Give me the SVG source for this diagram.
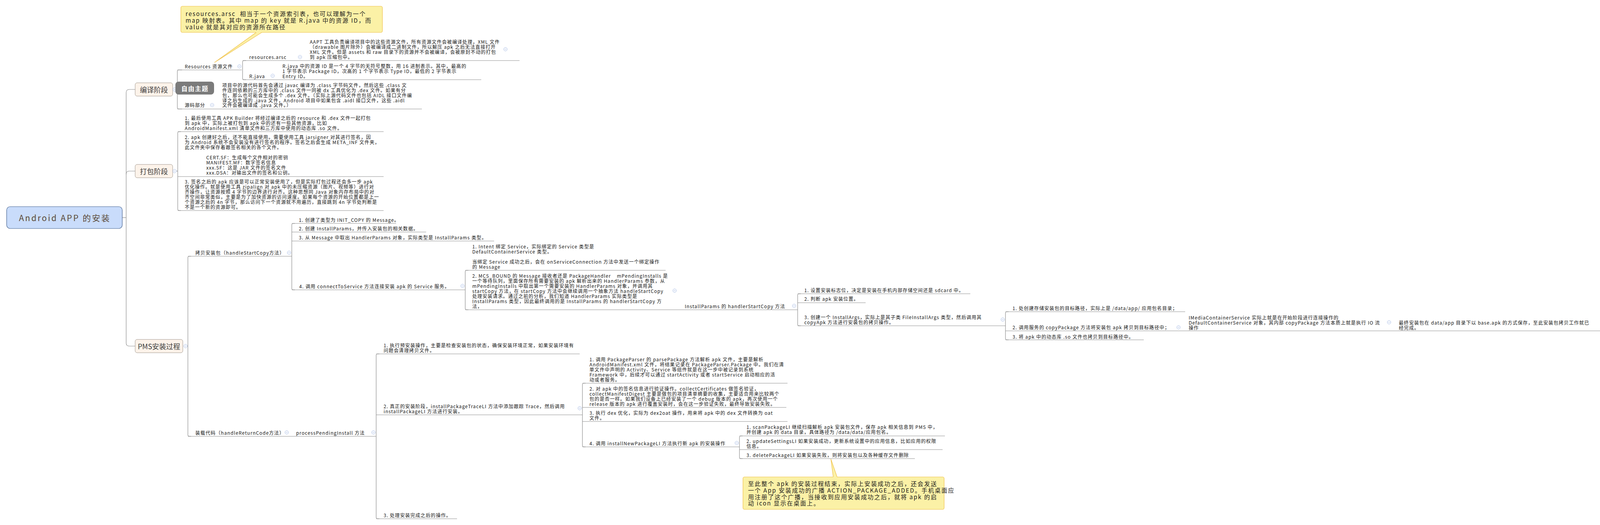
<svg xmlns="http://www.w3.org/2000/svg" width="4099" height="1344" viewBox="0 0 4099 1344">
<style>
.b{font-family:"Noto Sans CJK SC","Noto Sans",sans-serif;font-size:12px;letter-spacing:1.1px;fill:#141414;dominant-baseline:central}
.st{font-family:"Noto Sans CJK SC","Noto Sans",sans-serif;font-size:18px;fill:#3d3d3d;text-anchor:middle;dominant-baseline:central}
.rt{font-family:"Noto Sans CJK SC","Noto Sans",sans-serif;font-size:21px;letter-spacing:3px;fill:#5b4a38;text-anchor:middle;dominant-baseline:central}
.nt{font-family:"Noto Sans CJK SC","Noto Sans",sans-serif;font-size:15px;letter-spacing:2px;fill:#1a1a1a;dominant-baseline:central}
.ft{font-family:"Noto Sans CJK SC","Noto Sans",sans-serif;font-size:16px;font-weight:bold;letter-spacing:1.5px;fill:#ffffff;text-anchor:middle;dominant-baseline:central}
.ul{stroke:#8d8d8d;stroke-width:1.2;fill:none}
.cn{stroke:#8d8d8d;stroke-width:1.2;fill:none}
.sb{fill:#fdf3ea;stroke:#a0968c;stroke-width:1}
.note{fill:#fbf1a6;stroke:#f0c14b;stroke-width:1.2}
.col circle{fill:#ffffff;stroke:#a9bde6;stroke-width:1}
.col line{stroke:#a9bde6;stroke-width:1}
</style>
<defs>
<g id="col" class="col"><circle r="4.5"/><line x1="-2.5" y1="0" x2="2.5" y2="0"/></g>
</defs>
<rect x="0" y="0" width="4099" height="1344" fill="#ffffff"/>

<g id="connectors">
<path class="cn" d="M313,557 H323"/>
<path class="cn" d="M346,229 H331 Q323,229 323,237 V878 Q323,886 331,886 H346"/>
<path class="cn" d="M323,446 Q323,438 331,438 H346"/>
<path class="cn" d="M451,229 H454"/>
<path class="cn" d="M466,179 H458 Q454,179 454,183 V275 Q454,279 458,279 H466"/>
<path class="cn" d="M630,155 H625 Q621,155 621,159 V200 Q621,204 625,204 H630"/>
<path class="cn" d="M451,438 H455"/>
<path class="cn" d="M463,337 H459 Q455,337 455,341 V535 Q455,539 459,539 H463"/>
<path class="cn" d="M479,886 H481"/>
<path class="cn" d="M489,656 H485 Q481,656 481,660 V1113 Q481,1117 485,1117 H489"/>
<path class="cn" d="M755,572 H751 Q747,572 747,576 V738 Q747,742 751,742 H755"/>
<path class="cn" d="M1199,692 H1195 Q1191,692 1191,696 V789 Q1191,793 1195,793 H1199"/>
<path class="cn" d="M2050,752 H2046 Q2042,752 2042,756 V830 Q2042,834 2046,834 H2050"/>
<path class="cn" d="M2582,798 H2578 Q2574,798 2574,802 V866 Q2574,870 2578,870 H2582"/>
<path class="cn" d="M971,906 H967 Q963,906 963,910 V1324 Q963,1328 967,1328 H971"/>
<path class="cn" d="M1499,981 H1495 Q1491,981 1491,985 V1140 Q1491,1144 1495,1144 H1499"/>
<path class="cn" d="M1901,1116 H1897 Q1893,1116 1893,1120 V1170 Q1893,1174 1897,1174 H1901"/>
</g>

<g id="root">
<rect x="17" y="529" width="296" height="56" rx="9" fill="#c9dcfb" stroke="#45628f" stroke-width="1.2"/>
<text class="rt" x="166" y="557">Android APP 的安装</text>
</g>

<g id="stage-compile">
<rect class="sb" x="346" y="212" width="96" height="34" rx="5"/>
<text class="st" x="394" y="229">编译阶段</text>
<use href="#col" x="447" y="229"/>
</g>
<g id="stage-pack">
<rect class="sb" x="346" y="421" width="96" height="34" rx="5"/>
<text class="st" x="394" y="438">打包阶段</text>
<use href="#col" x="447" y="438"/>
</g>
<g id="stage-pms">
<rect class="sb" x="346" y="869" width="122" height="34" rx="5"/>
<text class="st" x="407" y="886">PMS安装过程</text>
<use href="#col" x="475" y="886"/>
</g>

<g id="note-top">
<rect class="note" x="463" y="16" width="516" height="67" rx="4"/>
<path d="M656,82 L549,160 L670,82 Z" fill="#fbf1a6"/>
<path d="M656,83 L549,160 L670,83" fill="none" stroke="#f0c14b" stroke-width="1.2"/>
<text class="nt"><tspan x="475" y="34">resources.arsc&#160;&#160;相当于一个资源索引表，也可以理解为一个</tspan><tspan x="475" y="51">map 映射表。其中 map 的 key 就是 R.java 中的资源 ID，而</tspan><tspan x="475" y="68">value 就是其对应的资源所在路径</tspan></text>
</g>

<g id="n-resources">
<line class="ul" x1="454" y1="179" x2="619" y2="179"/>
<text class="b" x="473" y="169">Resources 资源文件</text>
<use href="#col" x="613" y="170"/>
</g>
<g id="n-arsc">
<line class="ul" x1="621" y1="155" x2="785" y2="155"/>
<text class="b" x="638" y="145">resources.arsc</text>
<use href="#col" x="768" y="146"/>
</g>
<g id="n-aapt">
<line class="ul" x1="785" y1="155" x2="1330" y2="155"/>
<text class="b"><tspan x="793" y="106">AAPT 工具负责编译项目中的这些资源文件，所有资源文件会被编译处理，XML 文件</tspan><tspan x="793" y="119">（drawable 图片除外）会被编译成二进制文件，所以解压 apk 之后无法直接打开</tspan><tspan x="793" y="132">XML 文件。但是 assets 和 raw 目录下的资源并不会被编译，会被原封不动的打包</tspan><tspan x="793" y="145">到 apk 压缩包中。</tspan></text>
<use href="#col" x="1294" y="126"/>
</g>
<g id="n-rjava">
<line class="ul" x1="621" y1="204" x2="715" y2="204"/>
<text class="b" x="638" y="194">R.java</text>
<use href="#col" x="698" y="194"/>
</g>
<g id="n-rjava-desc">
<line class="ul" x1="715" y1="204" x2="1232" y2="204"/>
<text class="b"><tspan x="723" y="168">R.java 中的资源 ID 是一个 4 字节的无符号整数，用 16 进制表示。其中，最高的</tspan><tspan x="723" y="181">1 字节表示 Package ID，次高的 1 个字节表示 Type ID，最低的 2 字节表示</tspan><tspan x="723" y="194">Entry ID。</tspan></text>
</g>
<g id="n-src">
<line class="ul" x1="454" y1="279" x2="560" y2="279"/>
<text class="b" x="473" y="268">源码部分</text>
<use href="#col" x="543" y="269"/>
</g>
<g id="n-src-desc">
<line class="ul" x1="560" y1="279" x2="1080" y2="279"/>
<text class="b"><tspan x="569" y="217">项目中的源代码首先会通过 javac 编译为 .class 字节码文件，然后这些 .class 文</tspan><tspan x="569" y="230">件连同依赖的三方库中的 .class 文件一同被 dx 工具优化为 .dex 文件。如果有分</tspan><tspan x="569" y="243">包，那么也可能会生成多个 .dex 文件。（实际上源代码文件也包括 AIDL 接口文件编</tspan><tspan x="569" y="256">译之后生成的 .java 文件，Android 项目中如果包含 .aidl 接口文件，这些 .aidl</tspan><tspan x="569" y="268">文件会被编译成 .java 文件。）</tspan></text>
</g>
<g id="n-free">
<rect x="449" y="209" width="99" height="33" rx="8" fill="#7b7b7b"/>
<text class="ft" x="499" y="226">自由主题</text>
</g>

<g id="n-pk1">
<line class="ul" x1="455" y1="337" x2="982" y2="337"/>
<text class="b"><tspan x="473" y="301">1. 最后使用工具 APK Builder 将经过编译之后的 resource 和 .dex 文件一起打包</tspan><tspan x="473" y="314">到 apk 中，实际上被打包到 apk 中的还有一些其他资源，比如</tspan><tspan x="473" y="327">AndroidManifest.xml 清单文件和三方库中使用的动态库 .so 文件。</tspan></text>
</g>
<g id="n-pk2">
<line class="ul" x1="455" y1="452" x2="982" y2="452"/>
<text class="b"><tspan x="473" y="350">2. apk 创建好之后，还不能直接使用。需要使用工具 jarsigner 对其进行签名，因</tspan><tspan x="473" y="363">为 Android 系统不会安装没有进行签名的程序。签名之后会生成 META_INF 文件夹，</tspan><tspan x="473" y="376">此文件夹中保存着跟签名相关的各个文件。</tspan><tspan x="528" y="402">CERT.SF：生成每个文件相对的密钥</tspan><tspan x="528" y="415">MANIFEST.MF：数字签名信息</tspan><tspan x="528" y="428">xxx.SF：这是 JAR 文件的签名文件</tspan><tspan x="528" y="441">xxx.DSA：对输出文件的签名和公钥。</tspan></text>
</g>
<g id="n-pk3">
<line class="ul" x1="455" y1="539" x2="982" y2="539"/>
<text class="b"><tspan x="473" y="464">3. 签名之后的 apk 应该是可以正常安装使用了，但是实际打包过程还会多一步 apk</tspan><tspan x="473" y="477">优化操作。就是使用工具 zipalign 对 apk 中的未压缩资源（图片、视频等）进行对</tspan><tspan x="473" y="490">齐操作，让资源按照 4 字节的边界进行对齐。这种思想同 Java 对象内存布局中的对</tspan><tspan x="473" y="503">齐空间非常类似，主要是为了加快资源的访问速度。如果每个资源的开始位置都是上一</tspan><tspan x="473" y="516">个资源之后的 4n 字节，那么访问下一个资源就不用遍历，直接跳到 4n 字节处判断是</tspan><tspan x="473" y="529">不是一个新的资源即可。</tspan></text>
</g>

<g id="n-copy">
<line class="ul" x1="481" y1="656" x2="747" y2="656"/>
<text class="b" x="500" y="646">拷贝安装包（handleStartCopy方法）</text>
<use href="#col" x="740" y="647"/>
</g>
<g id="n-a1">
<line class="ul" x1="747" y1="572" x2="1014" y2="572"/>
<text class="b" x="765" y="562">1. 创建了类型为 INIT_COPY 的 Message。</text>
</g>
<g id="n-a2">
<line class="ul" x1="747" y1="594" x2="1091" y2="594"/>
<text class="b" x="765" y="584">2. 创建 InstallParams，并传入安装包的相关数据。</text>
</g>
<g id="n-a3">
<line class="ul" x1="747" y1="617" x2="1265" y2="617"/>
<text class="b" x="765" y="607">3. 从 Message 中取出 HandlerParams 对象，实际类型是 InstallParams 类型。</text>
</g>
<g id="n-a4">
<line class="ul" x1="747" y1="742" x2="1191" y2="742"/>
<text class="b" x="766" y="732">4. 调用 connectToService 方法连接安装 apk 的 Service 服务。</text>
<use href="#col" x="1184" y="732"/>
</g>
<g id="n-a4-1">
<line class="ul" x1="1191" y1="692" x2="1704" y2="692"/>
<text class="b"><tspan x="1209" y="630">1. Intent 绑定 Service，实际绑定的 Service 类型是</tspan><tspan x="1209" y="643">DefaultContainerService 类型。</tspan><tspan x="1209" y="669">当绑定 Service 成功之后，会在 onServiceConnection 方法中发送一个绑定操作</tspan><tspan x="1209" y="682">的 Message</tspan></text>
</g>
<g id="n-a4-2">
<line class="ul" x1="1191" y1="793" x2="1735" y2="793"/>
<text class="b"><tspan x="1209" y="705">2. MCS_BOUND 的 Message 接收者还是 PackageHandler&#160;&#160;&#160;&#160;mPendingInstalls 是</tspan><tspan x="1209" y="718">一个等待队列，里面保存所有需要安装的 apk 解析出来的 HandlerParams 参数，从</tspan><tspan x="1209" y="731">mPendingInstalls 中取出第一个需要安装的 HandlerParams 对象，并调用其</tspan><tspan x="1209" y="744">startCopy 方法，在 startCopy 方法中会继续调用一个抽象方法 handleStartCopy</tspan><tspan x="1209" y="757">处理安装请求。通过之前的分析，我们知道 HandlerParams 实际类型是</tspan><tspan x="1209" y="770">InstallParams 类型，因此最终调用的是 InstallParams 的 handlerStartCopy 方</tspan><tspan x="1209" y="783">法，</tspan></text>
<use href="#col" x="1727" y="744"/>
</g>
<g id="n-ip">
<line class="ul" x1="1735" y1="793" x2="2042" y2="793"/>
<text class="b" x="1753" y="783">InstallParams 的 handlerStartCopy 方法</text>
<use href="#col" x="2033" y="783"/>
</g>
<g id="n-ip1">
<line class="ul" x1="2042" y1="752" x2="2484" y2="752"/>
<text class="b" x="2059" y="742">1. 设置安装标志位，决定是安装在手机内部存储空间还是 sdcard 中。</text>
</g>
<g id="n-ip2">
<line class="ul" x1="2042" y1="775" x2="2216" y2="775"/>
<text class="b" x="2059" y="764">2. 判断 apk 安装位置。</text>
</g>
<g id="n-ip3">
<line class="ul" x1="2042" y1="834" x2="2574" y2="834"/>
<text class="b"><tspan x="2059" y="811">3. 创建一个 InstallArgs，实际上是其子类 FileInstallArgs 类型，然后调用其</tspan><tspan x="2059" y="824">copyApk 方法进行安装包的拷贝操作。</tspan></text>
<use href="#col" x="2567" y="818"/>
</g>
<g id="n-c1">
<line class="ul" x1="2574" y1="798" x2="3034" y2="798"/>
<text class="b" x="2592" y="788">1. 处创建存储安装包的目标路径，实际上是 /data/app/ 应用包名目录；</text>
</g>
<g id="n-c2">
<line class="ul" x1="2574" y1="847" x2="3030" y2="847"/>
<text class="b" x="2592" y="837">2. 调用服务的 copyPackage 方法将安装包 apk 拷贝到目标路径中；</text>
<use href="#col" x="3017" y="838"/>
</g>
<g id="n-c2a">
<line class="ul" x1="3030" y1="847" x2="3566" y2="847"/>
<text class="b"><tspan x="3043" y="812">IMediaContainerService 实际上就是在开始阶段进行连接操作的</tspan><tspan x="3043" y="825">DefaultContainerService 对象，其内部 copyPackage 方法本质上就是执行 IO 流</tspan><tspan x="3043" y="838">操作</tspan></text>
<use href="#col" x="3556" y="825"/>
</g>
<g id="n-c2b">
<line class="ul" x1="3566" y1="847" x2="4099" y2="847"/>
<text class="b"><tspan x="3581" y="825">最终安装包在 data/app 目录下以 base.apk 的方式保存，至此安装包拷贝工作就已</tspan><tspan x="3581" y="838">经完成。</tspan></text>
</g>
<g id="n-c3">
<line class="ul" x1="2574" y1="870" x2="2928" y2="870"/>
<text class="b" x="2592" y="861">3. 将 apk 中的动态库 .so 文件也拷贝到目标路径中。</text>
</g>

<g id="n-load">
<line class="ul" x1="481" y1="1117" x2="745" y2="1117"/>
<text class="b" x="500" y="1107">装载代码（handleReturnCode方法）</text>
<use href="#col" x="734" y="1107"/>
</g>
<g id="n-pp">
<line class="ul" x1="745" y1="1117" x2="963" y2="1117"/>
<text class="b" x="758" y="1107">processPendingInstall 方法</text>
<use href="#col" x="956" y="1107"/>
</g>
<g id="n-p1">
<line class="ul" x1="963" y1="906" x2="1484" y2="906"/>
<text class="b"><tspan x="982" y="883">1. 执行预安装操作，主要是检查安装包的状态，确保安装环境正常，如果安装环境有</tspan><tspan x="982" y="896">问题会清理拷贝文件。</tspan></text>
</g>
<g id="n-p2">
<line class="ul" x1="963" y1="1062" x2="1491" y2="1062"/>
<text class="b"><tspan x="982" y="1039">2. 真正的安装阶段，installPackageTraceLI 方法中添加跟踪 Trace，然后调用</tspan><tspan x="982" y="1052">installPackageLI 方法进行安装。</tspan></text>
<use href="#col" x="1484" y="1045"/>
</g>
<g id="n-p3">
<line class="ul" x1="963" y1="1328" x2="1170" y2="1328"/>
<text class="b" x="982" y="1318">3. 处理安装完成之后的操作。</text>
</g>
<g id="n-q1">
<line class="ul" x1="1491" y1="981" x2="2016" y2="981"/>
<text class="b"><tspan x="1509" y="919">1. 调用 PackageParser 的 parsePackage 方法解析 apk 文件，主要是解析</tspan><tspan x="1509" y="932">AndroidManifest.xml 文件，将结果记录在 PackageParser.Package 中。我们在清</tspan><tspan x="1509" y="945">单文件中声明的 Activity、Service 等组件就是在这一步中被记录到系统</tspan><tspan x="1509" y="958">Framework 中，后续才可以通过 startActivity 或者 startService 启动相应的活</tspan><tspan x="1509" y="971">动或者服务。</tspan></text>
</g>
<g id="n-q2">
<line class="ul" x1="1491" y1="1043" x2="2013" y2="1043"/>
<text class="b"><tspan x="1509" y="994">2. 对 apk 中的签名信息进行验证操作。collectCertificates 做签名验证，</tspan><tspan x="1509" y="1007">collectManifestDigest 主要是做包的项目清单摘要的收集，主要适合用来比较两个</tspan><tspan x="1509" y="1020">包的是否一样。如果我们设备上已经安装了一个 debug 版本的 apk，再次使用一个</tspan><tspan x="1509" y="1033">release 版本的 apk 进行覆盖安装时，会在这一步验证失败，最终导致安装失败。</tspan></text>
</g>
<g id="n-q3">
<line class="ul" x1="1491" y1="1079" x2="2016" y2="1079"/>
<text class="b"><tspan x="1509" y="1056">3. 执行 dex 优化，实际为 dex2oat 操作，用来将 apk 中的 dex 文件转换为 oat</tspan><tspan x="1509" y="1069">文件。</tspan></text>
</g>
<g id="n-q4">
<line class="ul" x1="1491" y1="1144" x2="1893" y2="1144"/>
<text class="b" x="1509" y="1134">4. 调用 installNewPackageLI 方法执行新 apk 的安装操作</text>
<use href="#col" x="1886" y="1134"/>
</g>
<g id="n-r1">
<line class="ul" x1="1893" y1="1116" x2="2419" y2="1116"/>
<text class="b"><tspan x="1911" y="1092">1. scanPackageLI 继续扫描解析 apk 安装包文件，保存 apk 相关信息到 PMS 中，</tspan><tspan x="1911" y="1105">并创建 apk 的 data 目录，具体路径为 /data/data/应用包名。</tspan></text>
</g>
<g id="n-r2">
<line class="ul" x1="1893" y1="1151" x2="2413" y2="1151"/>
<text class="b"><tspan x="1911" y="1128">2. updateSettingsLI 如果安装成功，更新系统设置中的应用信息，比如应用的权限</tspan><tspan x="1911" y="1141">信息。</tspan></text>
</g>
<g id="n-r3">
<line class="ul" x1="1893" y1="1174" x2="2342" y2="1174"/>
<text class="b" x="1911" y="1164">3. deletePackageLI 如果安装失败，则将安装包以及各种缓存文件删除</text>
</g>

<g id="note-bottom">
<rect class="note" x="1902" y="1221" width="515" height="83" rx="4"/>
<path d="M2133,1222 L2127,1175 L2143,1222 Z" fill="#fbf1a6"/>
<path d="M2133,1221 L2127,1175 L2143,1221" fill="none" stroke="#f0c14b" stroke-width="1.2"/>
<text class="nt"><tspan x="1915" y="1237">至此整个 apk 的安装过程结束，实际上安装成功之后，还会发送</tspan><tspan x="1915" y="1254">一个 App 安装成功的广播 ACTION_PACKAGE_ADDED。手机桌面应</tspan><tspan x="1915" y="1271">用注册了这个广播，当接收到应用安装成功之后，就将 apk 的启</tspan><tspan x="1915" y="1287">动 icon 显示在桌面上。</tspan></text>
</g>
</svg>
